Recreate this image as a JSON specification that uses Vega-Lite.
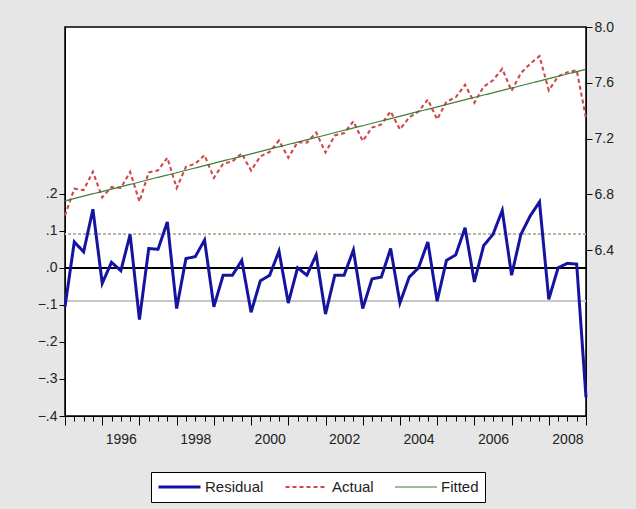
{
  "$schema": "https://vega.github.io/schema/vega-lite/v6.json",
  "width": 521,
  "height": 389,
  "autosize": {"type": "none"},
  "padding": {"left": 65, "top": 27, "right": 50, "bottom": 93},
  "background": "#e6e6e6",
  "config": {
    "view": {"fill": "white", "stroke": "black", "strokeWidth": 1.5},
    "font": "Liberation Sans",
    "axis": {"labelFont": "Liberation Sans", "labelFontSize": 13, "labelColor": "#222", "domainColor": "black", "tickColor": "black", "grid": false, "title": null},
    "legend": {"labelFont": "Liberation Sans", "labelFontSize": 15, "labelColor": "#222", "orient": "none", "legendX": 86, "legendY": 445, "direction": "horizontal", "strokeColor": "black", "fillColor": "white", "padding": 6, "symbolType": "stroke", "symbolSize": 1764, "clipHeight": 18, "labelOffset": 3, "columnPadding": 20, "title": null}
  },
  "data": {"values": [
    {"t": 1995.00, "residual": -0.105, "actual": 6.648, "fitted": 6.753},
    {"t": 1995.25, "residual": 0.070, "actual": 6.840, "fitted": 6.770},
    {"t": 1995.50, "residual": 0.043, "actual": 6.830, "fitted": 6.787},
    {"t": 1995.75, "residual": 0.158, "actual": 6.962, "fitted": 6.804},
    {"t": 1996.00, "residual": -0.042, "actual": 6.778, "fitted": 6.820},
    {"t": 1996.25, "residual": 0.015, "actual": 6.852, "fitted": 6.837},
    {"t": 1996.50, "residual": -0.008, "actual": 6.846, "fitted": 6.854},
    {"t": 1996.75, "residual": 0.090, "actual": 6.961, "fitted": 6.871},
    {"t": 1997.00, "residual": -0.140, "actual": 6.748, "fitted": 6.888},
    {"t": 1997.25, "residual": 0.052, "actual": 6.957, "fitted": 6.905},
    {"t": 1997.50, "residual": 0.050, "actual": 6.972, "fitted": 6.922},
    {"t": 1997.75, "residual": 0.124, "actual": 7.062, "fitted": 6.938},
    {"t": 1998.00, "residual": -0.110, "actual": 6.845, "fitted": 6.955},
    {"t": 1998.25, "residual": 0.025, "actual": 6.997, "fitted": 6.972},
    {"t": 1998.50, "residual": 0.030, "actual": 7.019, "fitted": 6.989},
    {"t": 1998.75, "residual": 0.075, "actual": 7.081, "fitted": 7.006},
    {"t": 1999.00, "residual": -0.105, "actual": 6.918, "fitted": 7.023},
    {"t": 1999.25, "residual": -0.020, "actual": 7.020, "fitted": 7.040},
    {"t": 1999.50, "residual": -0.020, "actual": 7.036, "fitted": 7.056},
    {"t": 1999.75, "residual": 0.020, "actual": 7.093, "fitted": 7.073},
    {"t": 2000.00, "residual": -0.120, "actual": 6.970, "fitted": 7.090},
    {"t": 2000.25, "residual": -0.035, "actual": 7.072, "fitted": 7.107},
    {"t": 2000.50, "residual": -0.020, "actual": 7.104, "fitted": 7.124},
    {"t": 2000.75, "residual": 0.045, "actual": 7.186, "fitted": 7.141},
    {"t": 2001.00, "residual": -0.095, "actual": 7.063, "fitted": 7.158},
    {"t": 2001.25, "residual": 0.000, "actual": 7.174, "fitted": 7.174},
    {"t": 2001.50, "residual": -0.020, "actual": 7.171, "fitted": 7.191},
    {"t": 2001.75, "residual": 0.035, "actual": 7.243, "fitted": 7.208},
    {"t": 2002.00, "residual": -0.125, "actual": 7.100, "fitted": 7.225},
    {"t": 2002.25, "residual": -0.020, "actual": 7.222, "fitted": 7.242},
    {"t": 2002.50, "residual": -0.020, "actual": 7.239, "fitted": 7.259},
    {"t": 2002.75, "residual": 0.048, "actual": 7.324, "fitted": 7.276},
    {"t": 2003.00, "residual": -0.110, "actual": 7.182, "fitted": 7.292},
    {"t": 2003.25, "residual": -0.030, "actual": 7.279, "fitted": 7.309},
    {"t": 2003.50, "residual": -0.025, "actual": 7.301, "fitted": 7.326},
    {"t": 2003.75, "residual": 0.052, "actual": 7.395, "fitted": 7.343},
    {"t": 2004.00, "residual": -0.095, "actual": 7.265, "fitted": 7.360},
    {"t": 2004.25, "residual": -0.025, "actual": 7.352, "fitted": 7.377},
    {"t": 2004.50, "residual": 0.000, "actual": 7.394, "fitted": 7.394},
    {"t": 2004.75, "residual": 0.070, "actual": 7.480, "fitted": 7.410},
    {"t": 2005.00, "residual": -0.090, "actual": 7.337, "fitted": 7.427},
    {"t": 2005.25, "residual": 0.020, "actual": 7.464, "fitted": 7.444},
    {"t": 2005.50, "residual": 0.035, "actual": 7.496, "fitted": 7.461},
    {"t": 2005.75, "residual": 0.108, "actual": 7.586, "fitted": 7.478},
    {"t": 2006.00, "residual": -0.038, "actual": 7.457, "fitted": 7.495},
    {"t": 2006.25, "residual": 0.060, "actual": 7.572, "fitted": 7.512},
    {"t": 2006.50, "residual": 0.090, "actual": 7.618, "fitted": 7.528},
    {"t": 2006.75, "residual": 0.155, "actual": 7.700, "fitted": 7.545},
    {"t": 2007.00, "residual": -0.020, "actual": 7.542, "fitted": 7.562},
    {"t": 2007.25, "residual": 0.090, "actual": 7.669, "fitted": 7.579},
    {"t": 2007.50, "residual": 0.140, "actual": 7.736, "fitted": 7.596},
    {"t": 2007.75, "residual": 0.178, "actual": 7.791, "fitted": 7.613},
    {"t": 2008.00, "residual": -0.085, "actual": 7.545, "fitted": 7.630},
    {"t": 2008.25, "residual": 0.000, "actual": 7.646, "fitted": 7.646},
    {"t": 2008.50, "residual": 0.012, "actual": 7.675, "fitted": 7.663},
    {"t": 2008.75, "residual": 0.010, "actual": 7.690, "fitted": 7.680},
    {"t": 2009.00, "residual": -0.350, "actual": 7.347, "fitted": 7.697}
  ]},
  "layer": [
    {
      "layer": [
        {"mark": {"type": "rule", "color": "#b8b8a0", "strokeDash": [3, 2], "strokeWidth": 1}, "encoding": {"y": {"datum": 0.09}}},
        {"mark": {"type": "rule", "color": "#c8c8c8", "strokeWidth": 1}, "encoding": {"y": {"datum": -0.09}}},
        {"mark": {"type": "rule", "color": "black", "strokeWidth": 1.5}, "encoding": {"y": {"datum": 0}}},
        {
          "mark": {"type": "line", "strokeJoin": "miter"},
          "encoding": {
            "x": {"field": "t", "type": "quantitative", "scale": {"domain": [1995, 2009], "nice": false, "zero": false},
                  "axis": {"orient": "bottom", "values": [1995,1995.25,1995.5,1995.75,1996,1996.25,1996.5,1996.75,1997,1997.25,1997.5,1997.75,1998,1998.25,1998.5,1998.75,1999,1999.25,1999.5,1999.75,2000,2000.25,2000.5,2000.75,2001,2001.25,2001.5,2001.75,2002,2002.25,2002.5,2002.75,2003,2003.25,2003.5,2003.75,2004,2004.25,2004.5,2004.75,2005,2005.25,2005.5,2005.75,2006,2006.25,2006.5,2006.75,2007,2007.25,2007.5,2007.75,2008,2008.25,2008.5,2008.75,2009],
                           "tickCount": 100,
                           "tickSize": {"condition": {"test": "datum.value % 1 == 0", "value": 9}, "value": 5},
                           "domain": true, "labelExpr": "(datum.value % 2 == 0 && datum.value < 2009) ? '' + datum.value : ''", "labelOffset": 18.6, "labelPadding": 7, "labelFontSize": 14, "labelOverlap": false, "labelBound": false, "labelFlush": false}},
            "y": {"field": "residual", "type": "quantitative", "scale": {"domain": [-0.4, 0.65], "nice": false, "zero": false},
                  "axis": {"orient": "left", "values": [-0.4,-0.3,-0.2,-0.1,0,0.1,0.2], "tickSize": 6, "labelExpr": "replace(format(datum.value, '.1f'), '0.', '.')", "labelFontSize": 14}},
            "color": {"datum": "Residual", "type": "nominal", "scale": {"domain": ["Residual", "Actual", "Fitted"], "range": ["#1414a0", "#d04848", "#3a7d3a"]}},
            "strokeDash": {"datum": "Residual", "type": "nominal", "scale": {"domain": ["Residual", "Actual", "Fitted"], "range": [[1, 0], [4, 3], [1, 0]]}},
            "strokeWidth": {"datum": "Residual", "type": "nominal", "scale": {"domain": ["Residual", "Actual", "Fitted"], "range": [3, 1.2, 1.4]}}
          }
        }
      ]
    },
    {
      "layer": [
        {
          "mark": {"type": "line"},
          "encoding": {
            "x": {"field": "t", "type": "quantitative", "axis": null},
            "y": {"field": "actual", "type": "quantitative", "scale": {"domain": [5.21, 8.0], "nice": false, "zero": false},
                  "axis": {"orient": "right", "values": [6.4, 6.8, 7.2, 7.6, 8.0], "format": ".1f", "tickSize": 6, "labelFontSize": 14}},
            "color": {"datum": "Actual", "type": "nominal"},
            "strokeDash": {"datum": "Actual", "type": "nominal"},
            "strokeWidth": {"datum": "Actual", "type": "nominal"}
          }
        },
        {
          "mark": {"type": "line"},
          "encoding": {
            "x": {"field": "t", "type": "quantitative", "axis": null},
            "y": {"field": "fitted", "type": "quantitative"},
            "color": {"datum": "Fitted", "type": "nominal"},
            "strokeDash": {"datum": "Fitted", "type": "nominal"},
            "strokeWidth": {"datum": "Fitted", "type": "nominal"}
          }
        }
      ]
    }
  ],
  "resolve": {"scale": {"y": "independent"}, "axis": {"x": "independent", "y": "independent"}}
}
